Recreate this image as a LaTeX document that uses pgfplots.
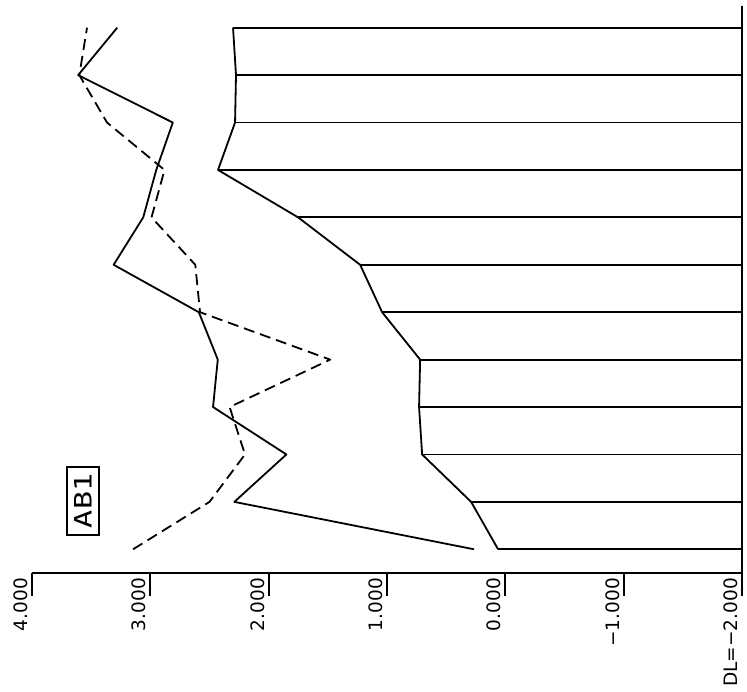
\documentclass[border=0pt]{standalone}
\usepackage{pgfplots}
\usepackage{pgfplotstable}
\pgfplotsset{compat=1.18}
\usepackage{fontspec}
\setmainfont{DejaVu Sans}
\newfontfamily\monofont{DejaVu Sans Mono}
\pgfplotstableread{
i v s d
1 0.061 0.264 3.146
2 0.289 2.29 2.50
3 0.703 1.85 2.20
4 0.729 2.47 2.33
5 0.720 2.43 1.48
6 1.041 2.59 2.58
7 1.227 3.31 2.62
8 1.751 3.06 2.99
9 2.428 2.95 2.88
10 2.284 2.81 3.366
11 2.276 3.61 3.60
12 2.301 3.28 3.535
}\data
\begin{document}
\begin{tikzpicture}
\path[use as bounding box] (0,0) rectangle (747pt,691pt);
\begin{axis}[
  at={(387pt,118pt)}, anchor=south,
  scale only axis, width=710pt, height=569pt,
  x dir=reverse, xmin=-2, xmax=4, ymin=0.5, ymax=12.5,
  axis x line*=bottom, axis y line=none, ytick=\empty,
  axis line style={-, line width=1.8pt, black},
  xtick={-2,-1,0,1,2,3,4},
  xticklabels={DL=−2.000,−1.000,0.000,1.000,2.000,3.000,4.000},
  tick align=outside, major tick length=23pt,
  x tick style={line width=1.8pt, black},
  xticklabel shift=-23pt,
  xticklabel style={rotate=90, anchor=south east, inner xsep=5pt, inner ysep=4pt, font=\fontsize{18.5}{20}\selectfont},
  clip=false,
  unbounded coords=jump,
  every axis plot/.append style={line join=round},
]
\addplot[black, line width=1.8pt, no markers] table[x=v,y=i]{\data};
\addplot[black, line width=1.8pt, no markers] coordinates {(-2,0.5) (-2,12.45)};
\addplot[black, line width=1.8pt, no markers] coordinates {
(-2,1) (0.061,1) (nan,nan)
(-2,2) (0.289,2) (nan,nan)
(-2,3) (0.703,3) (nan,nan)
(-2,4) (0.729,4) (nan,nan)
(-2,5) (0.720,5) (nan,nan)
(-2,6) (1.041,6) (nan,nan)
(-2,7) (1.227,7) (nan,nan)
(-2,8) (1.751,8) (nan,nan)
(-2,9) (2.428,9) (nan,nan)
(-2,10) (2.284,10) (nan,nan)
(-2,11) (2.276,11) (nan,nan)
(-2,12) (2.301,12)
};
\addplot[black, line width=1.8pt, no markers] table[x=s,y=i]{\data};
\addplot[black, line width=1.8pt, no markers, dash pattern=on 11pt off 6pt] table[x=d,y=i]{\data};
\node[draw, line width=1.4pt, rotate=90, minimum width=68pt, minimum height=32pt, inner sep=0pt, font=\monofont\fontsize{24}{24}\selectfont] at (axis cs:3.57,2.02) {\scalebox{1.25}[1]{AB1}};
\end{axis}
\end{tikzpicture}
\end{document}
